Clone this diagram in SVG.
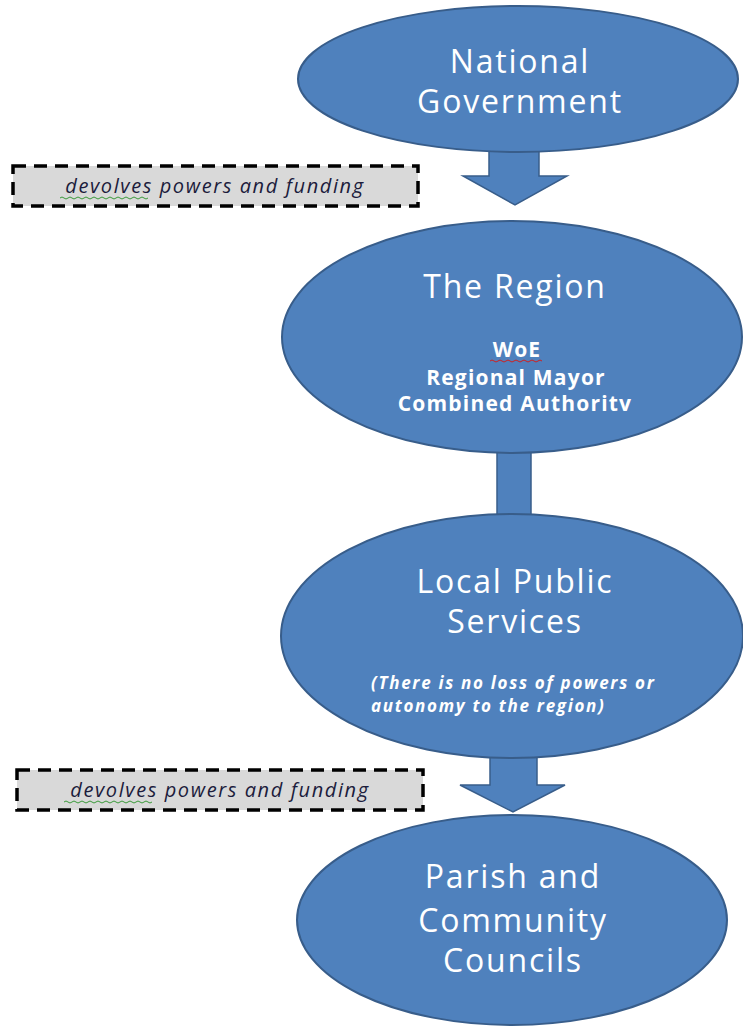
<svg xmlns="http://www.w3.org/2000/svg" width="743" height="1026" viewBox="0 0 743 1026">
<style>
.node{fill:#4F81BD;stroke:#385D8A;stroke-width:2}
.big{font-family:"Open Sans","Liberation Sans",sans-serif;font-size:32px;fill:#fff;text-anchor:middle;letter-spacing:1.8px}
.bold{font-family:"Open Sans","Liberation Sans",sans-serif;font-size:21px;font-weight:bold;fill:#fff;text-anchor:middle;letter-spacing:1.2px}
.note{font-family:"Open Sans","Liberation Sans",sans-serif;font-size:17px;font-weight:bold;font-style:italic;fill:#fff;letter-spacing:1.7px}
.box{fill:#D9D9D9;stroke:#000;stroke-width:3.5;stroke-dasharray:13 8}
.lbl{font-family:"Open Sans","Liberation Sans",sans-serif;font-size:20px;font-style:italic;fill:#1c1c3c;text-anchor:middle;letter-spacing:1.6px}
.conn{fill:#4F81BD;stroke:#385D8A;stroke-width:1.5}
.squig{fill:none;stroke-width:1}
</style>
<g id="connectors">
<path class="conn" d="M489,150 L539,150 L539,176 L567,176 L515,205 L463,176 L489,176 Z"/>
<rect class="conn" x="497" y="450" width="34" height="68"/>
<path class="conn" d="M490,755 L537,755 L537,785 L565,785 L513,812 L460,785 L490,785 Z"/>
</g>
<g id="node-national">
<ellipse class="node" cx="518" cy="79" rx="220" ry="73"/>
<text class="big" x="520" y="73">National</text>
<text class="big" x="520" y="113">Government</text>
</g>
<g id="label-1">
<rect class="box" x="13" y="166" width="405" height="40"/>
<text class="lbl" x="215" y="193">devolves powers and funding</text>
<path class="squig" stroke="#3a9a3a" d="M60,198 q2,-2 4,0 t4,0 t4,0 t4,0 t4,0 t4,0 t4,0 t4,0 t4,0 t4,0 t4,0 t4,0 t4,0 t4,0 t4,0 t4,0 t4,0 t4,0 t4,0 t4,0 t4,0 t4,0"/>
</g>
<g id="node-region">
<ellipse class="node" cx="512" cy="337" rx="230" ry="116"/>
<text class="big" x="515" y="298">The Region</text>
<text class="bold" x="517" y="357">WoE</text>
<path class="squig" stroke="#d02020" d="M490,361 q2,-2 4,0 t4,0 t4,0 t4,0 t4,0 t4,0 t4,0 t4,0 t4,0 t4,0 t4,0 t4,0 t4,0"/>
<text class="bold" x="516" y="385">Regional Mayor</text>
<text class="bold" x="515" y="411">Combined Authoritv</text>
</g>
<g id="node-local">
<ellipse class="node" cx="512" cy="636" rx="231" ry="122"/>
<text class="big" x="515" y="593">Local Public</text>
<text class="big" x="515" y="633">Services</text>
<text class="note" x="371" y="689">(There is no loss of powers or</text>
<text class="note" x="371" y="712">autonomy to the region)</text>
</g>
<g id="label-2">
<rect class="box" x="17" y="770" width="406" height="40"/>
<text class="lbl" x="220" y="797">devolves powers and funding</text>
<path class="squig" stroke="#3a9a3a" d="M64,802 q2,-2 4,0 t4,0 t4,0 t4,0 t4,0 t4,0 t4,0 t4,0 t4,0 t4,0 t4,0 t4,0 t4,0 t4,0 t4,0 t4,0 t4,0 t4,0 t4,0 t4,0 t4,0 t4,0"/>
</g>
<g id="node-parish">
<ellipse class="node" cx="512" cy="920" rx="215" ry="105"/>
<text class="big" x="513" y="888">Parish and</text>
<text class="big" x="513" y="932">Community</text>
<text class="big" x="513" y="972">Councils</text>
</g>
</svg>
